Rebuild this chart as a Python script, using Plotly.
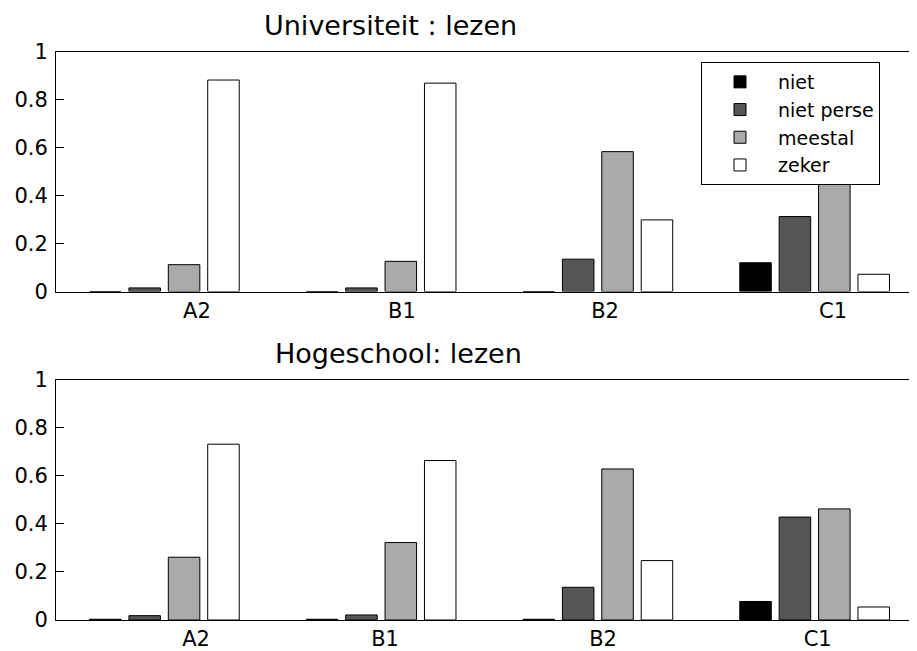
import plotly.graph_objects as go

# ---------------- data ----------------
categories = ["A2", "B1", "B2", "C1"]
series_names = ["niet", "niet perse", "meestal", "zeker"]

uni_niet = [0.0, 0.0, 0.0, 0.12]
uni_niet_perse = [0.015, 0.015, 0.135, 0.313]
uni_meestal = [0.112, 0.126, 0.584, 0.50]
uni_zeker = [0.883, 0.870, 0.299, 0.072]

hs_niet = [0.003, 0.003, 0.003, 0.077]
hs_niet_perse = [0.018, 0.021, 0.136, 0.428]
hs_meestal = [0.261, 0.322, 0.628, 0.462]
hs_zeker = [0.731, 0.663, 0.247, 0.054]

y_ticks = [0, 0.2, 0.4, 0.6, 0.8, 1]

titles = ["Universiteit : lezen", "Hogeschool: lezen"]

# ---------------- style / layout ----------------
colors = ["#000000", "#555555", "#aaaaaa", "#ffffff"]
FONT = "DejaVu Sans"
SCREEN_W, SCREEN_H = 917, 651
PAGE_OFF = 8                      # default body margin of the html page
W, H = SCREEN_W - PAGE_OFF, SCREEN_H - PAGE_OFF
# plot area in screen pixels: x 56..917, y 52..620
ML, MR, MT, MB = 56 - PAGE_OFF, 0, 52 - PAGE_OFF, SCREEN_H - 620
plot_w = W - ML - MR
plot_h = H - MT - MB


def px_x(sx):
    return (sx - 56) / plot_w


def px_y(sy):
    return (620 - sy) / plot_h


# label placement offsets (as rendered in the original figure)
upper_label_shift = [0.150, 0.096, 0.033, 0.085]
lower_label_shift = [0.146, 0.018, 0.024, 0.014]

x_pos = [i + 1 for i in range(len(categories))]

uni = [uni_niet, uni_niet_perse, uni_meestal, uni_zeker]
hs = [hs_niet, hs_niet_perse, hs_meestal, hs_zeker]

fig = go.Figure()
for k, name in enumerate(series_names):
    fig.add_trace(go.Bar(
        x=x_pos, y=uni[k], name=name, xaxis="x", yaxis="y",
        marker=dict(color=colors[k], line=dict(color="#000000", width=1)),
        showlegend=True,
    ))
for k, name in enumerate(series_names):
    fig.add_trace(go.Bar(
        x=x_pos, y=hs[k], name=name, xaxis="x2", yaxis="y2",
        marker=dict(color=colors[k], line=dict(color="#000000", width=1)),
        showlegend=False,
    ))

upper_dom = [px_y(291.5), 1.0]
lower_dom = [0.0, px_y(379.5)]

xrange_ = [0.5, 0.5 + plot_w / 216.75]

common_x = dict(
    range=xrange_, showline=True, linecolor="#000000", linewidth=1,
    mirror=True, ticks="", showgrid=False, zeroline=False,
    tickfont=dict(family=FONT, size=21, color="#000000"),
    ticklabelstandoff=0,
)
common_y = dict(
    range=[0, 1], tickvals=y_ticks, showline=True, linecolor="#000000",
    linewidth=1, ticks="inside", ticklen=8, tickcolor="#000000",
    showgrid=False, zeroline=False,
    tickfont=dict(family=FONT, size=21, color="#000000"),
    ticklabelstandoff=3,
)

fig.update_layout(
    width=W, height=H,
    margin=dict(l=ML, r=MR, t=MT, b=MB),
    paper_bgcolor="#ffffff", plot_bgcolor="#ffffff",
    barmode="group", bargap=0.273, bargroupgap=0.2,
    xaxis=dict(common_x, domain=[0, 1], anchor="y",
               tickvals=[p + s for p, s in zip(x_pos, upper_label_shift)],
               ticktext=categories),
    yaxis=dict(common_y, domain=upper_dom, anchor="x"),
    xaxis2=dict(common_x, domain=[0, 1], anchor="y2",
                tickvals=[p + s for p, s in zip(x_pos, lower_label_shift)],
                ticktext=categories),
    yaxis2=dict(common_y, domain=lower_dom, anchor="x2"),
    legend=dict(
        x=px_x(701), y=px_y(62),
        xanchor="left", yanchor="top",
        bgcolor="#ffffff", bordercolor="#000000", borderwidth=1,
        font=dict(family=FONT, size=19, color="#000000"),
        itemwidth=66, entrywidth=130, entrywidthmode="pixels",
    ),
    annotations=[
        dict(text=titles[0], xref="paper", yref="paper",
             x=px_x(390), y=px_y(26),
             xanchor="center", yanchor="middle", showarrow=False,
             font=dict(family=FONT, size=27, color="#000000")),
        dict(text=titles[1], xref="paper", yref="paper",
             x=px_x(398), y=px_y(353),
             xanchor="center", yanchor="middle", showarrow=False,
             font=dict(family=FONT, size=27, color="#000000")),
    ],
)

fig.write_html("out.html")
